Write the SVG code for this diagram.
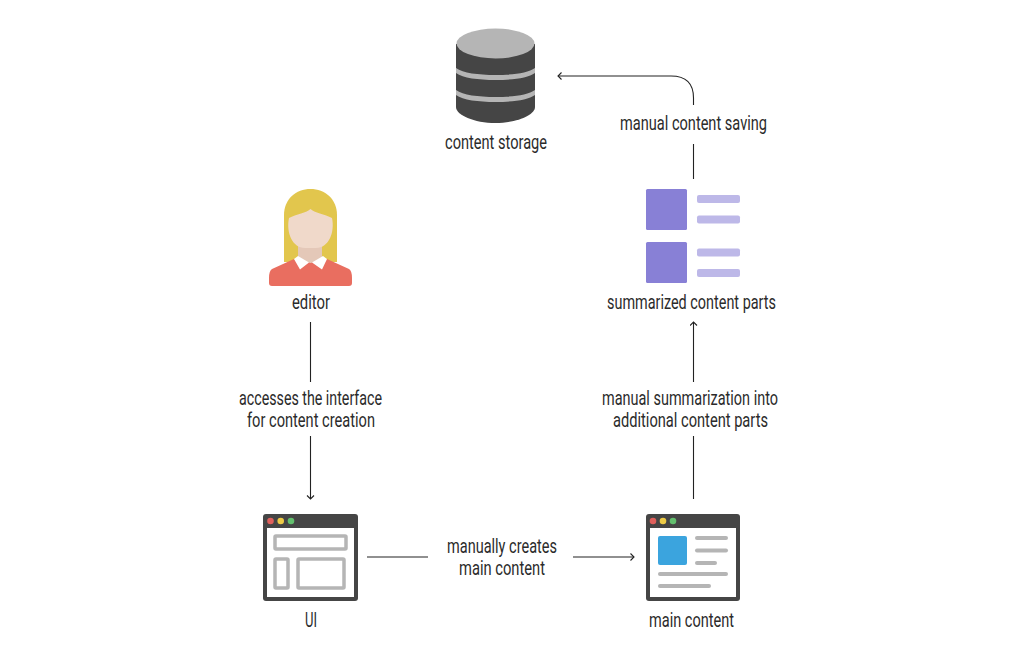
<svg xmlns="http://www.w3.org/2000/svg" width="1024" height="661" viewBox="0 0 1024 661">
<defs>
<style>
text{font-family:"Roboto","Liberation Sans",sans-serif;font-size:20px;fill:#2b2b2b;}
.c{fill:none;stroke:#222;stroke-width:1.1;}
.g{fill:#b5b5b5;}
.d{fill:#454545;}
.gs{fill:none;stroke:#b5b5b5;stroke-width:3.5;}
.p{fill:#8880d6;}
.l{fill:#bdb8e8;}
</style>
<marker id="a" markerWidth="10" markerHeight="10" refX="8" refY="4" orient="auto" markerUnits="userSpaceOnUse"><path d="M4.5 0.5L8 4L4.5 7.5" fill="none" stroke="#222" stroke-width="1.1"/></marker>
</defs>
<rect width="1024" height="661" fill="#fff"/>
<g id="connectors">
<path class="c" d="M310.500 322V382"/>
<path class="c" d="M310.500 436V499" marker-end="url(#a)"/>
<path class="c" d="M367 557H428"/>
<path class="c" d="M573 557H634" marker-end="url(#a)"/>
<path class="c" d="M693.500 499V436"/>
<path class="c" d="M693.500 382V322" marker-end="url(#a)"/>
<path class="c" d="M693.500 179V144"/>
<path class="c" d="M693.500 105V98Q693.500 76 671 76H558" marker-end="url(#a)"/>
</g>
<g id="storage">
<path class="d" d="M456 44V107C456 115 474 123 495.500 123S535 115 535 107V44Z"/>
<path class="g" d="M456 68C463 73 478 75 495.500 75S528 73 535 68V73C528 78 513 80 495.500 80S463 78 456 73Z"/>
<path class="g" d="M456 90C463 95 478 97 495.500 97S528 95 535 90V95C528 100 513 102 495.500 102S463 100 456 95Z"/>
<ellipse class="g" cx="495.500" cy="43.500" rx="39" ry="15"/>
<text x="445" y="149" textLength="102" lengthAdjust="spacingAndGlyphs">content storage</text>
</g>
<g id="editor">
<path fill="#e2c64d" d="M284 262V215C284 199 296 189 310.500 189S337 199 337 215V262Z"/>
<path fill="#e4c8b8" d="M298 240H322V266H298Z"/>
<path fill="#f0d9ca" d="M310.500 209C307 213 296 214 289 218C286 232 292 248 305 248H316C329 248 335 232 332 218C325 214 314 213 310.500 209Z"/>
<path fill="#e96e60" d="M294 259L272 269Q269 271 269 278V283Q269 286 272 286H349Q352 286 352 283V278Q352 271 349 269L327 259L310.500 263Z"/>
<path fill="#fff" d="M294 259L298 256L309 262.500L300 269.500ZM327 259L323 256L312 262.500L322 269.500Z"/>
<text x="292" y="309" textLength="38" lengthAdjust="spacingAndGlyphs">editor</text>
</g>
<g id="edge-label-1">
<text x="239" y="405" textLength="143" lengthAdjust="spacingAndGlyphs">accesses the interface</text>
<text x="247" y="427" textLength="128" lengthAdjust="spacingAndGlyphs">for content creation</text>
</g>
<g id="ui">
<rect class="d" x="263" y="514" width="95" height="87" rx="3"/>
<rect fill="#fff" x="267" y="528" width="87" height="69"/>
<circle cx="270.500" cy="521" r="3.300" fill="#e0605c"/><circle cx="280.700" cy="521" r="3.300" fill="#eecb46"/><circle cx="291" cy="521" r="3.300" fill="#62bf6d"/>
<rect class="gs" x="275" y="536" width="71" height="13" rx="1"/>
<rect class="gs" x="275" y="559" width="13" height="29" rx="1"/>
<rect class="gs" x="298" y="559" width="46" height="29" rx="1"/>
<text x="305" y="626.500" textLength="12" lengthAdjust="spacingAndGlyphs">UI</text>
</g>
<g id="edge-label-2">
<text x="447" y="552.500" textLength="110" lengthAdjust="spacingAndGlyphs">manually creates</text>
<text x="459" y="574.500" textLength="86" lengthAdjust="spacingAndGlyphs">main content</text>
</g>
<g id="main-content">
<rect class="d" x="646" y="514" width="94" height="87" rx="3"/>
<rect fill="#fff" x="650" y="528" width="86" height="69"/>
<circle cx="653" cy="521" r="3.300" fill="#e0605c"/><circle cx="663" cy="521" r="3.300" fill="#eecb46"/><circle cx="673" cy="521" r="3.300" fill="#62bf6d"/>
<rect x="658" y="536" width="29" height="29" rx="2" fill="#3ba4de"/>
<rect class="g" x="695" y="536" width="33" height="4" rx="2"/>
<rect class="g" x="695" y="548.500" width="33" height="4" rx="2"/>
<rect class="g" x="695" y="561" width="22" height="4" rx="2"/>
<rect class="g" x="658" y="572" width="70" height="4" rx="2"/>
<rect class="g" x="658" y="584" width="53" height="4" rx="2"/>
<text x="649" y="626.500" textLength="85" lengthAdjust="spacingAndGlyphs">main content</text>
</g>
<g id="edge-label-3">
<text x="602" y="405" textLength="176" lengthAdjust="spacingAndGlyphs">manual summarization into</text>
<text x="613" y="427" textLength="155" lengthAdjust="spacingAndGlyphs">additional content parts</text>
</g>
<g id="summarized-content-parts">
<rect class="p" x="646" y="189" width="41" height="41" rx="1.500"/>
<rect class="p" x="646" y="242" width="41" height="41" rx="1.500"/>
<rect class="l" x="697" y="195" width="43" height="8" rx="2"/>
<rect class="l" x="697" y="215.500" width="43" height="8" rx="2"/>
<rect class="l" x="697" y="248.500" width="43" height="8" rx="2"/>
<rect class="l" x="697" y="269" width="43" height="8" rx="2"/>
<text x="607" y="309" textLength="169" lengthAdjust="spacingAndGlyphs">summarized content parts</text>
</g>
<g id="edge-label-4">
<text x="620" y="130" textLength="147" lengthAdjust="spacingAndGlyphs">manual content saving</text>
</g>
</svg>
